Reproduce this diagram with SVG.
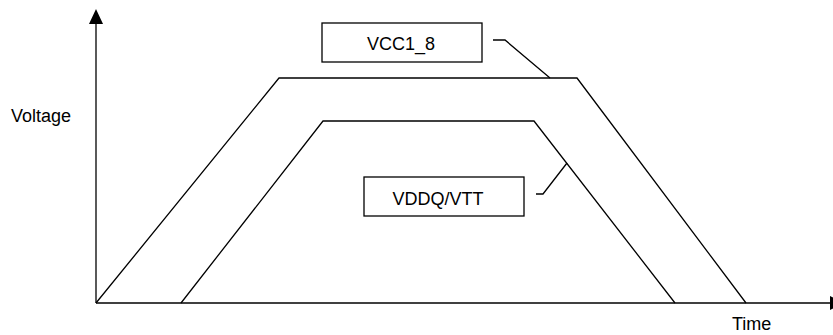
<svg xmlns="http://www.w3.org/2000/svg" width="833" height="335" viewBox="0 0 833 335">
<style>
.ln{fill:none;stroke:#000;stroke-width:1.3}
.box{fill:#fff;stroke:#000;stroke-width:1.3}
.t{font-family:"Liberation Sans",Arial,sans-serif;font-size:18px;fill:#000}
</style>
<rect width="833" height="335" fill="#fff"/>
<g id="axes">
<line class="ln" x1="96" y1="303" x2="96" y2="20"/>
<polygon points="96,9 103,24 89,24" fill="#000"/>
<line class="ln" x1="96" y1="303" x2="832" y2="303"/>
<polygon points="844,303 830,296 830,310" fill="#000"/>
<text class="t" x="11" y="122">Voltage</text>
<text class="t" x="732" y="330">Time</text>
</g>
<g id="curves">
<polyline id="vcc-curve" class="ln" points="96,303 279,78 577,78 746,303"/>
<polyline id="vddq-curve" class="ln" points="181,303 323,121 534,121 675,303"/>
</g>
<g id="node-vcc">
<rect class="box" x="322" y="23" width="160" height="39"/>
<text class="t" x="401" y="50" text-anchor="middle">VCC1_8</text>
</g>
<g id="node-vddq">
<rect class="box" x="364" y="177" width="160" height="39"/>
<text class="t" x="438" y="205" text-anchor="middle">VDDQ/VTT</text>
</g>
<g id="connectors">
<polyline class="ln" points="493,40 505,40 550,78"/>
<polyline class="ln" points="536,194 543,194 567,163"/>
</g>
</svg>
